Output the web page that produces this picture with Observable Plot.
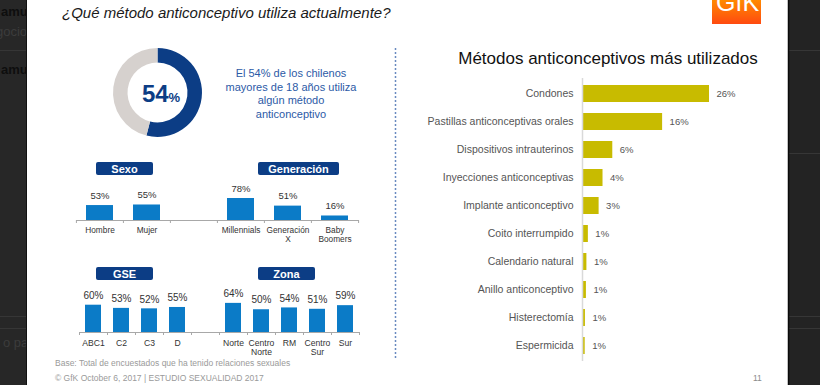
<!DOCTYPE html>
<html>
<head>
<meta charset="utf-8">
<script src="https://cdn.jsdelivr.net/npm/d3@7"></script>
<script src="https://cdn.jsdelivr.net/npm/@observablehq/plot@0.6"></script>
<style>
  html, body { margin: 0; padding: 0; }
  body { width: 820px; height: 385px; overflow: hidden; background: #242424; position: relative;
         font-family: "Liberation Sans", Arial, sans-serif; }
  svg { position: absolute; }
</style>
</head>
<body>
<script>
// ---------------- DATA ----------------
const donutShare = 54;                                   // % que usa algún método
const donutParts = [donutShare, 100 - donutShare];

const sexoGenCats   = ["Hombre", "Mujer", " ", "Millennials", "Generación\nX", "Baby\nBoomers"];
const sexoGenValues = [53, 55, null, 78, 51, 16];

const gseZonaCats   = ["ABC1", "C2", "C3", "D", " ", "Norte", "Centro\nNorte", "RM", "Centro\nSur", "Sur"];
const gseZonaValues = [60, 53, 52, 55, null, 64, 50, 54, 51, 59];

const methods = ["Condones", "Pastillas anticonceptivas orales", "Dispositivos intrauterinos",
  "Inyecciones anticonceptivas", "Implante anticonceptivo", "Coito interrumpido",
  "Calendario natural", "Anillo anticonceptivo", "Histerectomía", "Espermicida"];
const methodValues = [26, 16.4, 6.2, 4.2, 3.4, 1.2, 0.9, 0.8, 0.6, 0.55];
const methodLabels = ["26%", "16%", "6%", "4%", "3%", "1%", "1%", "1%", "1%", "1%"];

const groupTitles = ["Sexo", "Generación", "GSE", "Zona"];

// ---------------- STYLE ----------------
const BLUE = "#0b7bc7", NAVY = "#0c3d85", OLIVE = "#c8bb00", GREY = "#d6d1ce";
const FONT = "Liberation Sans, Arial, sans-serif";

// ---------------- BACKGROUND / SLIDE ----------------
const base = d3.select("body").append("svg")
  .attr("width", 820).attr("height", 385).style("left", "0px").style("top", "0px");

// side chrome (browser page behind the slide)
base.append("rect").attr("x", 0).attr("y", 0).attr("width", 27).attr("height", 385).attr("fill", "#272727");
base.append("rect").attr("x", 788).attr("y", 0).attr("width", 32).attr("height", 385).attr("fill", "#232323");
[50, 316, 328].forEach(y => base.append("line").attr("x1", 0).attr("x2", 27).attr("y1", y + 0.5).attr("y2", y + 0.5).attr("stroke", "#363636"));
[50, 153, 316, 328].forEach(y => base.append("line").attr("x1", 788).attr("x2", 820).attr("y1", y + 0.5).attr("y2", y + 0.5).attr("stroke", "#363636"));
base.append("text").attr("x", 1).attr("y", 16).attr("font-family", FONT).attr("font-weight", "bold").attr("font-size", 13).attr("fill", "#0e0e0e").text("amu");
base.append("text").attr("x", -4).attr("y", 36).attr("font-family", FONT).attr("font-size", 13).attr("fill", "#3c3c3c").text("gocio");
base.append("text").attr("x", 1).attr("y", 74).attr("font-family", FONT).attr("font-weight", "bold").attr("font-size", 13).attr("fill", "#0e0e0e").text("amu");
base.append("text").attr("x", -5).attr("y", 347).attr("font-family", FONT).attr("font-size", 13).attr("fill", "#3c3c3c").text("r o pa");

// white slide
base.append("rect").attr("x", 27).attr("y", 0).attr("width", 761).attr("height", 385).attr("fill", "#ffffff");
base.append("line").attr("x1", 26.5).attr("x2", 26.5).attr("y1", 0).attr("y2", 385).attr("stroke", "#111");
base.append("line").attr("x1", 788.5).attr("x2", 788.5).attr("y1", 0).attr("y2", 385).attr("stroke", "#0a0a0a").attr("stroke-width", 1.5);

// GfK logo (cut at top)
const defs = base.append("defs");
const grad = defs.append("linearGradient").attr("id", "gfk").attr("x1", 0).attr("y1", 0).attr("x2", 0).attr("y2", 1);
grad.append("stop").attr("offset", "0%").attr("stop-color", "#ff8a00");
grad.append("stop").attr("offset", "100%").attr("stop-color", "#ff4a10");
defs.append("clipPath").attr("id", "gfkclip").append("rect").attr("x", 712).attr("y", 0).attr("width", 49).attr("height", 24);
base.append("rect").attr("x", 712).attr("y", 0).attr("width", 49).attr("height", 24).attr("fill", "url(#gfk)");
base.append("text").attr("clip-path", "url(#gfkclip)").attr("x", 716).attr("y", 10.5)
  .attr("font-family", FONT).attr("font-size", 25).attr("fill", "#fff").text("GfK");

// title
base.append("text").attr("x", 62).attr("y", 18).attr("font-family", FONT).attr("font-style", "italic")
  .attr("font-size", 15).attr("fill", "#1a1a1a").text("¿Qué método anticonceptivo utiliza actualmente?");

// blue statement next to donut
const stmt = ["El 54% de los chilenos", "mayores de 18 años utiliza", "algún método", "anticonceptivo"];
stmt.forEach((t, i) => base.append("text").attr("x", 291).attr("y", 77 + i * 13.5).attr("text-anchor", "middle")
  .attr("font-family", FONT).attr("font-size", 11).attr("fill", "#2c5aa6").text(t));

// dotted divider
base.append("line").attr("x1", 395.5).attr("x2", 395.5).attr("y1", 48).attr("y2", 358)
  .attr("stroke", "#6a8ac0").attr("stroke-width", 1.5).attr("stroke-dasharray", "2,2");

// group header boxes
const boxes = [
  {t: groupTitles[0], x: 96, y: 162, w: 57},
  {t: groupTitles[1], x: 258, y: 162, w: 81},
  {t: groupTitles[2], x: 96, y: 267, w: 57},
  {t: groupTitles[3], x: 258, y: 267, w: 57}
];
boxes.forEach(b => {
  base.append("rect").attr("x", b.x).attr("y", b.y).attr("width", b.w).attr("height", 13).attr("rx", 2).attr("fill", NAVY);
  base.append("text").attr("x", b.x + b.w / 2).attr("y", b.y + 10.5).attr("text-anchor", "middle")
    .attr("font-family", FONT).attr("font-weight", "bold").attr("font-size", 11).attr("fill", "#fff").text(b.t);
});

// right chart title
base.append("text").attr("x", 608).attr("y", 64).attr("text-anchor", "middle").attr("font-family", FONT)
  .attr("font-size", 17).attr("fill", "#111").text("Métodos anticonceptivos más utilizados");

// footer
base.append("text").attr("x", 55).attr("y", 366).attr("font-family", FONT).attr("font-size", 8.5).attr("fill", "#9a9a9a")
  .text("Base: Total de encuestados que ha tenido relaciones sexuales");
base.append("text").attr("x", 55).attr("y", 381).attr("font-family", FONT).attr("font-size", 8.5).attr("fill", "#9a9a9a")
  .text("© GfK October 6, 2017 | ESTUDIO SEXUALIDAD 2017");
base.append("text").attr("x", 753).attr("y", 381).attr("font-family", FONT).attr("font-size", 8.5).attr("fill", "#8a8a8a").text("11");

// ---------------- helpers ----------------
function place(node, left, top) {
  node.style.position = "absolute";
  node.style.left = left + "px";
  node.style.top = top + "px";
  node.style.maxWidth = "none";
  document.body.appendChild(node);
}
const plotStyle = {background: "transparent", fontFamily: FONT, fontSize: "10px", color: "#333", overflow: "visible"};

// ---------------- DONUT ----------------
const DW = 99, DH = 99;
const donut = Plot.plot({
  width: DW, height: DH, margin: 0,
  x: {axis: null}, y: {axis: null},
  style: plotStyle,
  marks: [
    () => {
      const g = d3.create("svg:g").attr("transform", `translate(${DW / 2},${DH / 2})`);
      const arcs = d3.pie().sort(null)(donutParts);
      g.selectAll("path").data(arcs).join("path")
        .attr("d", d3.arc().innerRadius(30).outerRadius(44.5))
        .attr("fill", (d, i) => i === 0 ? NAVY : GREY);
      const t = g.append("text").attr("x", 3.5).attr("y", 9.5).attr("text-anchor", "middle")
        .attr("font-family", FONT).attr("font-weight", "bold").attr("fill", NAVY);
      t.append("tspan").attr("font-size", 24).text(donutShare);
      t.append("tspan").attr("font-size", 13).text("%");
      return g.node();
    }
  ]
});
place(donut, 108, 43);

// ---------------- SMALL BAR CHARTS ----------------
function smallBars({cats, values, left, top, width, height, mL, mR, mT, mB, labelDy, catDy, valueSize, catSize}) {
  const data = cats.map((c, i) => ({c, v: values[i]}));
  const shown = data.filter(d => d.v != null);
  const step = (width - mL - mR) / cats.length;
  const pxPerUnit = (height - mT - mB) / 100;
  const tick = -3 / pxPerUnit;
  const chart = Plot.plot({
    width, height, marginLeft: mL, marginRight: mR, marginTop: mT, marginBottom: mB,
    x: {type: "band", domain: cats, paddingInner: 0.42, paddingOuter: 0.21, axis: null},
    y: {domain: [0, 100], axis: null},
    style: plotStyle,
    marks: [
      Plot.barY(shown, {x: "c", y: "v", fill: BLUE}),
      Plot.ruleY([0], {stroke: "#a8a8a8"}),
      Plot.ruleX(cats, {x: d => d, y1: 0, y2: tick, dx: -step / 2, stroke: "#a8a8a8"}),
      Plot.ruleX([cats[cats.length - 1]], {x: d => d, y1: 0, y2: tick, dx: step / 2, stroke: "#a8a8a8"}),
      Plot.text(shown, {x: "c", y: "v", text: d => d.v + "%", dy: labelDy, fontSize: valueSize, fill: "#333"}),
      Plot.text(data, {x: "c", y: 0, text: "c", dy: catDy, lineAnchor: "top", lineHeight: 1.08, fontSize: catSize, fill: "#333"})
    ]
  });
  place(chart, left, top);
}

smallBars({cats: sexoGenCats, values: sexoGenValues, left: 60, top: 180, width: 320, height: 70,
  mL: 16, mR: 21, mT: 11.8, mB: 30, labelDy: -10, catDy: 6, valueSize: 9.5, catSize: 8.3});

smallBars({cats: gseZonaCats, values: gseZonaValues, left: 60, top: 280, width: 320, height: 80,
  mL: 19, mR: 21, mT: 6.5, mB: 28, labelDy: -9.5, catDy: 6.5, valueSize: 10, catSize: 8.6});

// ---------------- METHODS CHART ----------------
const methodData = methods.map((m, i) => ({m, v: methodValues[i], label: methodLabels[i]}));
const methodsChart = Plot.plot({
  width: 340, height: 300, marginLeft: 162, marginRight: 31.45, marginTop: 8, marginBottom: 9,
  x: {domain: [0, 30], axis: null},
  y: {domain: methods, paddingInner: 0.4, paddingOuter: 0.2, label: null, tickSize: 0, tickPadding: 9},
  style: {...plotStyle, fontSize: "10.5px", color: "#555"},
  marks: [
    Plot.barX(methodData, {x: "v", y: "m", fill: OLIVE}),
    Plot.ruleX([0], {stroke: "#d9d9d9", strokeWidth: 1.5}),
    Plot.text(methodData, {x: "v", y: "m", text: "label", dx: 7, textAnchor: "start", fontSize: 9.5, fill: "#555"})
  ]
});
place(methodsChart, 420, 70);
</script>
</body>
</html>
